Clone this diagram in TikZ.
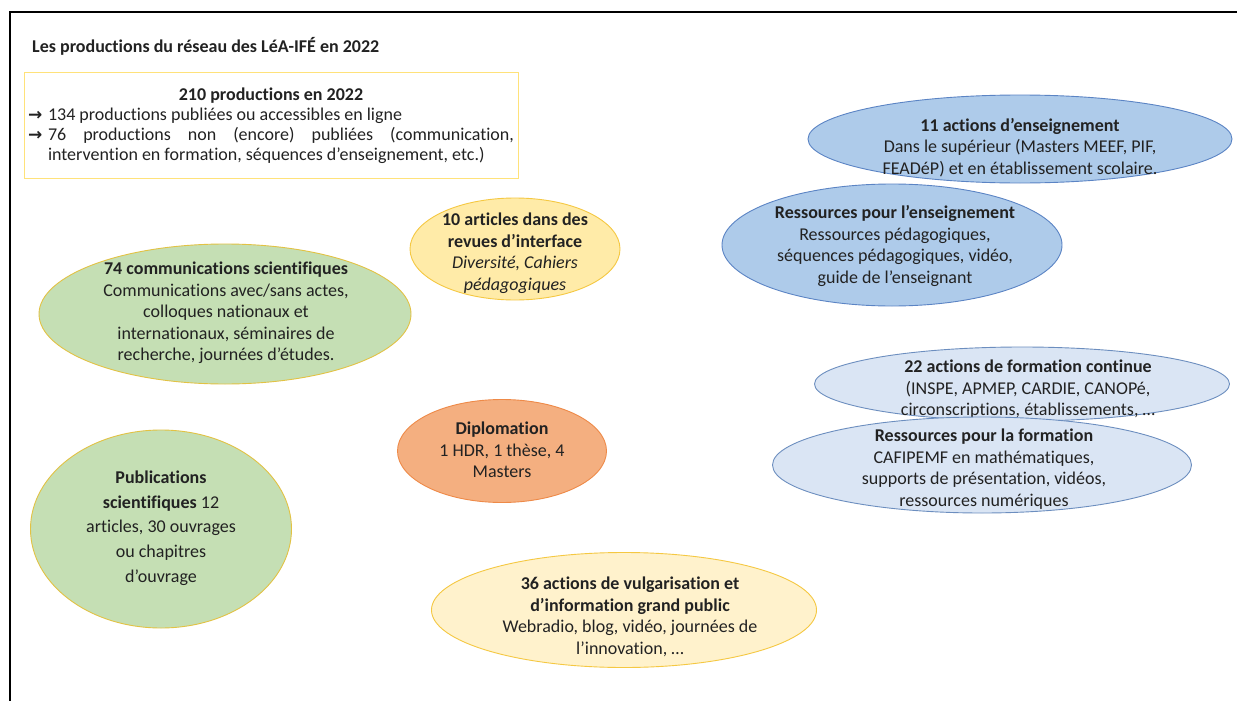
\documentclass[tikz,border=0pt]{standalone}
\usepackage{fontspec}
\setmainfont{Carlito}[Ligatures={NoCommon}]
\newfontfamily\symfont{DejaVu Sans}
\usetikzlibrary{shapes.geometric}
\definecolor{txtc}{HTML}{222222}
\definecolor{greenfill}{HTML}{C5DFB4}
\definecolor{greenline}{HTML}{E2C244}
\definecolor{yellowfillA}{HTML}{FFEBA8}
\definecolor{yellowfillB}{HTML}{FFF2CC}
\definecolor{yellowline}{HTML}{F5C842}
\definecolor{orangefill}{HTML}{F4AF80}
\definecolor{orangeline}{HTML}{EE8A48}
\definecolor{bluefill}{HTML}{AECBEA}
\definecolor{blueline}{HTML}{5B84C4}
\definecolor{lbluefill}{HTML}{DAE5F4}
\definecolor{lblueline}{HTML}{6C8EBF}
\definecolor{boxline}{HTML}{FFE27A}
\tikzset{
  ell/.style={ellipse, inner sep=0pt, line width=0.9pt},
  lbl/.style={align=center, text=txtc, font=\fontsize{18}{21.5}\selectfont, inner sep=0pt},
}
\newcommand{\arr}{\makebox[20pt][l]{\symfont\bfseries\fontsize{17}{17}\selectfont →}}
\begin{document}
\begin{tikzpicture}[x=1pt,y=-1pt]
\useasboundingbox (0,0) rectangle (1237,701);
\fill[white] (0,0) rectangle (1237,701);
\draw[line width=2pt, black] (10,701) -- (10,12) -- (1237,12);

\node[anchor=west, text=txtc, font=\bfseries\fontsize{18}{21}\selectfont, inner sep=0pt] (title) at (32,46) {Les productions du réseau des LéA-IFÉ en 2022};

\node[draw=boxline, line width=1pt, fill=white, inner xsep=3pt, inner ysep=4pt, minimum width=494pt, minimum height=105pt, text=txtc, font=\fontsize{18}{20}\selectfont] (box) at (271,125.5) {\parbox{486pt}{%
{\centering\bfseries 210 productions en 2022\par}
\noindent\arr 134 productions publiées ou accessibles en ligne\par
\noindent\hangindent=20pt\hangafter=1\arr 76 productions non (encore) publiées (communication,\linebreak intervention en formation, séquences d’enseignement, etc.)\par}};

% blue upper
\node[ell, draw=blueline, fill=bluefill, minimum width=424pt, minimum height=88pt] (eEns) at (1020,139) {};
\node[lbl] (tEns) at (1020,147.5) {\textbf{11 actions d’enseignement}\\Dans le supérieur (Masters MEEF, PIF,\\FEADéP) et en établissement scolaire.};
\node[ell, draw=blueline, fill=bluefill, minimum width=340pt, minimum height=122pt] (eRE) at (892,245) {};
\node[lbl] (tRE) at (895,246) {\textbf{Ressources pour l’enseignement}\\Ressources pédagogiques,\\séquences pédagogiques, vidéo,\\guide de l’enseignant};

% yellow articles
\node[ell, draw=yellowline, fill=yellowfillA, minimum width=210pt, minimum height=102pt] (eArt) at (515,249) {};
\node[lbl] (tArt) at (515,253) {\textbf{10 articles dans des}\\\textbf{revues d’interface}\\\textit{Diversité, Cahiers}\\\textit{pédagogiques}};

% green communications
\node[ell, draw=greenline, fill=greenfill, minimum width=372pt, minimum height=140pt] (eCom) at (225,314) {};
\node[lbl] (tCom) at (226,313) {\textbf{74 communications scientifiques}\\Communications avec/sans actes,\\colloques nationaux et\\internationaux, séminaires de\\recherche, journées d’études.};

% light blue
\node[ell, draw=lblueline, fill=lbluefill, minimum width=415pt, minimum height=74pt] (eFC) at (1022,384) {};
\node[lbl] (tFC) at (1028,389.5) {\textbf{22 actions de formation continue}\\(INSPE, APMEP, CARDIE, CANOPé,\\circonscriptions, établissements, …};
\node[ell, draw=lblueline, fill=lbluefill, minimum width=419pt, minimum height=96pt] (eRF) at (982,465) {};
\node[lbl] (tRF) at (984,469) {\textbf{Ressources pour la formation}\\CAFIPEMF en mathématiques,\\supports de présentation, vidéos,\\ressources numériques};

% orange
\node[ell, draw=orangeline, fill=orangefill, minimum width=209pt, minimum height=103pt] (eDip) at (502,451) {};
\node[lbl] (tDip) at (502,450) {\textbf{Diplomation}\\1 HDR, 1 thèse, 4\\Masters};

% green publications
\node[ell, draw=greenline, fill=greenfill, minimum width=261pt, minimum height=198pt] (ePub) at (161,529) {};
\node[lbl, font=\fontsize{18}{24.75}\selectfont] (tPub) at (161,528) {\textbf{Publications}\\\textbf{scientifiques} 12\\articles, 30 ouvrages\\ou chapitres\\d’ouvrage};

% yellow vulgarisation
\node[ell, draw=yellowline, fill=yellowfillB, minimum width=385pt, minimum height=115pt] (eVul) at (624,610) {};
\node[lbl] (tVul) at (630,617) {\textbf{36 actions de vulgarisation et}\\\textbf{d’information grand public}\\Webradio, blog, vidéo, journées de\\l’innovation, …};
\end{tikzpicture}
\end{document}
